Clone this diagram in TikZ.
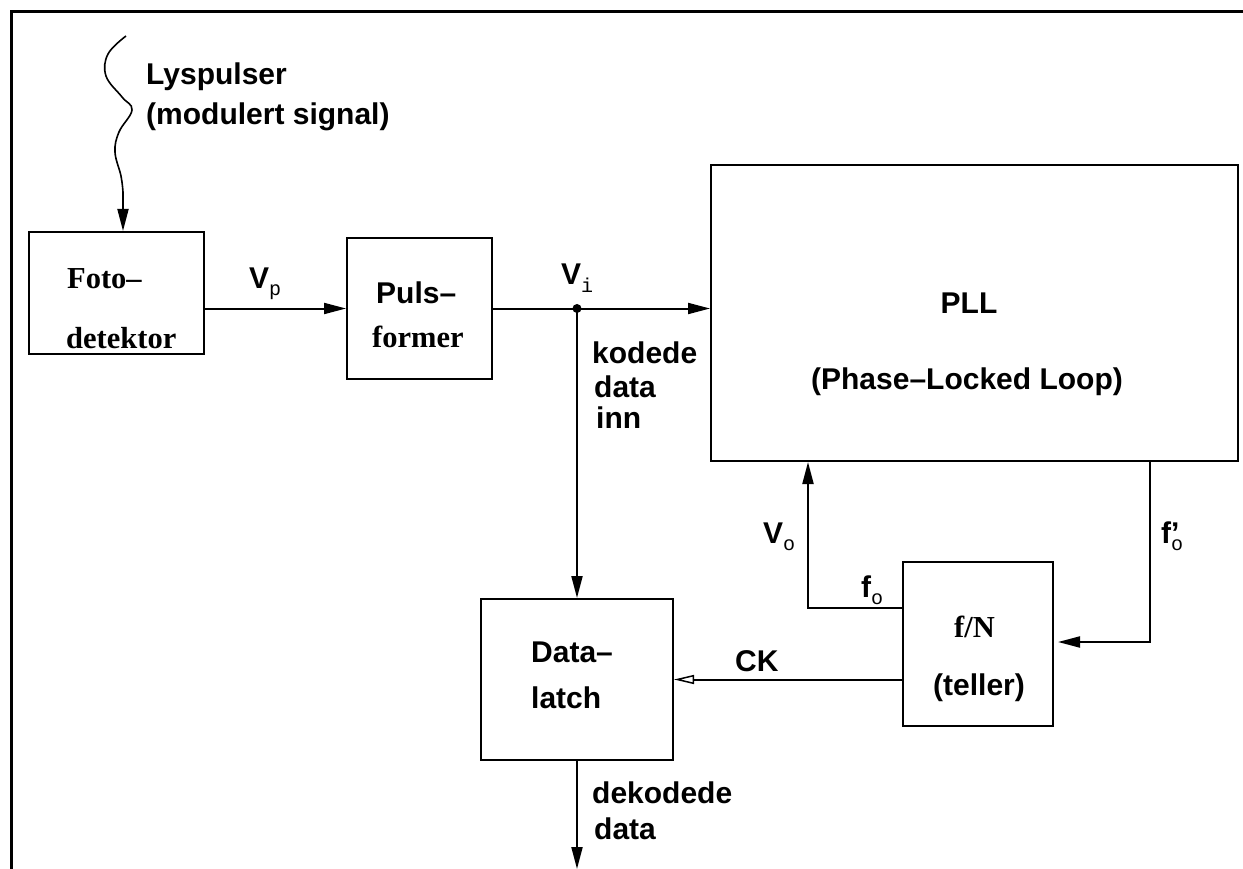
\documentclass[tikz,border=0pt]{standalone}
\usepackage{fontspec}
\setmainfont{Liberation Sans}
\newfontfamily\myserif{Liberation Serif}
\newfontfamily\mymono{Liberation Mono}
\usetikzlibrary{arrows.meta,calc}
\newcommand{\subm}[1]{\raisebox{-7pt}{\mymono\mdseries\fontsize{20}{20}\selectfont #1}}
\begin{document}
\begin{tikzpicture}[x=1pt,y=-1pt,
  box/.style={draw, line width=2pt, rectangle, inner sep=0pt},
  lbl/.style={inner sep=0pt, anchor=base west, font=\bfseries\fontsize{30}{30}\selectfont},
  lblc/.style={inner sep=0pt, anchor=base, font=\bfseries\fontsize{30}{30}\selectfont},
  slbl/.style={inner sep=0pt, anchor=base west, font=\myserif\bfseries\fontsize{30.5}{30.5}\selectfont},
  conn/.style={line width=2pt},
  arr/.style={line width=2pt, -{Triangle[length=22pt,width=11pt]}},
  oarr/.style={line width=2pt, -{Triangle[open,length=20pt,width=9pt,line width=1.5pt]}}]
\useasboundingbox (0,0) rectangle (1243,869);
% frame
\draw[line width=3pt] (1243,11.5) -- (11.5,11.5) -- (11.5,869);

% boxes
\node[box, minimum width=175pt, minimum height=122pt] (foto) at (116.5,293) {};
\node[box, minimum width=145pt, minimum height=141pt] (puls) at (419.5,308.5) {};
\node[box, minimum width=527pt, minimum height=296pt] (pll) at (974.5,313) {};
\node[box, minimum width=192pt, minimum height=161pt] (latch) at (577,679.5) {};
\node[box, minimum width=150pt, minimum height=164pt] (teller) at (978,644) {};

% texts
\node[lbl] (t1) at (146,85) {Lyspulser};
\node[lbl] (t2) at (146,125) {(modulert signal)};
\node[slbl] (t3) at (67,288) {Foto–};
\node[slbl] (t4) at (66,348) {detektor};
\node[lbl] (t5) at (376,303) {Puls–};
\node[slbl] (t6) at (372,347) {former};
\node[lblc] (t7) at (969,313) {PLL};
\node[lblc] (t8) at (967,389) {(Phase–Locked Loop)};
\node[lbl] (t9) at (531,662) {Data–};
\node[lbl] (t10) at (531,708) {latch};
\node[slbl] (t11) at (954,637) {f/N};
\node[lbl] (t12) at (933,695) {(teller)};
\node[lbl] (t13) at (592,363) {kodede};
\node[lbl] (t14) at (594,397) {data};
\node[lbl] (t15) at (596,428) {inn};
\node[lbl] (t16) at (592,803) {dekodede};
\node[lbl] (t17) at (594,839) {data};
\node[lbl] (t18) at (735,671) {CK};
\node[lbl] (vp) at (249,288) {V\subm{p}};
\node[lbl] (vi) at (561,285) {V\subm{i}};
\node[lbl] (vo) at (763,543) {V\subm{o}};
\node[lbl] (fo) at (861,597) {f\subm{o}};
\node[lbl] (fpo) at (1161,543) {f\rlap{’}\subm{o}};

% wavy light input
\coordinate (w) at (123,192);
\draw[conn, line width=1.6pt] plot[smooth, tension=0.65] coordinates {(126,36) (108,54) (106,76) (122,97) (132,110) (119,132) (115,152) (121,176) (123,192)};
\draw[arr, line width=1.8pt] (w) -- (w |- foto.north);

% signal path
\draw[arr] (foto.east |- puls.west) -- (puls.west);
\coordinate (j) at (latch.north |- puls.east);
\draw[arr] (puls.east) -- (pll.west |- puls.east);
\fill (j) circle (4.5pt);
\draw[arr] (j) -- (latch.north);
\coordinate (out) at (577,869);
\draw[arr] (latch.south) -- (out);

% loop
\draw[arr] ($(teller.north west)+(0,47)$) -| ($(pll.south west)+(98,0)$);
\draw[arr, shorten >=4pt] ($(pll.south west)+(440,0)$) |- ($(teller.east)+(0,-2)$);
\draw[oarr] (teller.west |- latch.east) -- (latch.east);
\end{tikzpicture}
\end{document}
